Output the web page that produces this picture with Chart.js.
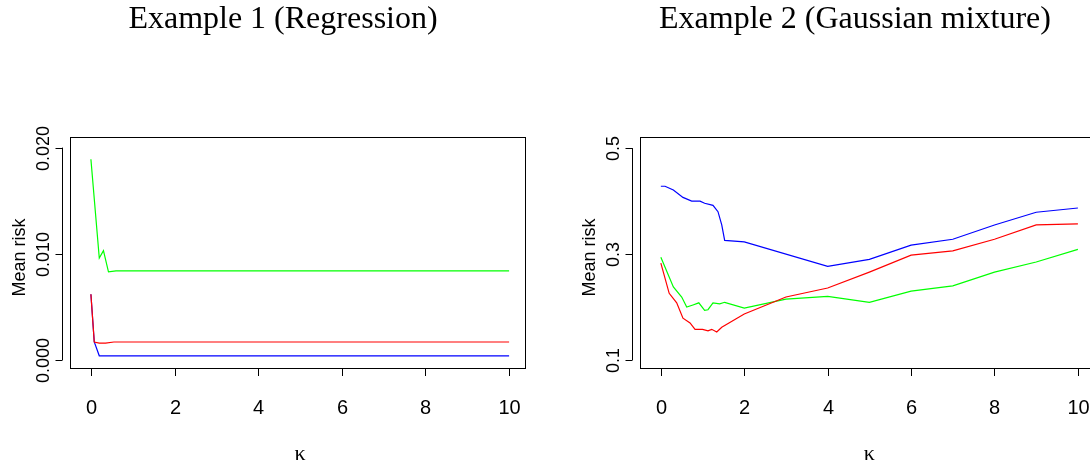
<!DOCTYPE html>
<html>
<head>
<meta charset="utf-8">
<script src="https://cdn.jsdelivr.net/npm/chart.js@4"></script>
<style>
  body { margin: 0; background: #fff; }
  canvas { position: absolute; top: 0; }
</style>
</head>
<body>
<canvas id="c1" width="545" height="466" style="left:0"></canvas>
<canvas id="c2" width="545" height="466" style="left:545px"></canvas>
<script>
// Example 1 (Regression)
const reg_green = [[0,0.0189],[0.2,0.0096],[0.3,0.0103],[0.42,0.0083],[0.6,0.0084],[10,0.0084]];
const reg_red = [[0,0.0062],[0.08,0.0017],[0.2,0.0016],[0.35,0.0016],[0.55,0.0017],[10,0.0017]];
const reg_blue = [[0,0.0062],[0.08,0.0017],[0.2,0.0004],[10,0.0004]];
const reg_xticks = [0,2,4,6,8,10];
const reg_yticks = [0, 0.01, 0.02];
const reg_ylabels = ["0.000","0.010","0.020"];

// Example 2 (Gaussian mixture)
const gm_blue = [[0,0.428],[0.1,0.428],[0.3,0.421],[0.53,0.407],[0.74,0.4],[0.94,0.4],[1.05,0.396],[1.25,0.392],[1.37,0.38],[1.46,0.355],[1.53,0.326],[2,0.323],[4,0.277],[5,0.29],[6,0.317],[7,0.328],[8,0.355],[9,0.379],[10,0.387]];
const gm_red = [[0,0.283],[0.2,0.226],[0.38,0.208],[0.53,0.179],[0.7,0.17],[0.82,0.158],[1,0.158],[1.13,0.155],[1.22,0.158],[1.34,0.153],[1.46,0.162],[2,0.187],[3,0.219],[4,0.236],[5,0.266],[6,0.298],[7,0.306],[8,0.328],[9,0.355],[10,0.357]];
const gm_green = [[0,0.294],[0.3,0.238],[0.5,0.219],[0.62,0.2],[0.77,0.204],[0.91,0.208],[1.05,0.194],[1.13,0.195],[1.25,0.208],[1.41,0.206],[1.53,0.209],[2,0.198],[3,0.215],[4,0.22],[5,0.209],[6,0.23],[7,0.24],[8,0.266],[9,0.285],[10,0.309]];
const gm_xticks = [0,2,4,6,8,10];
const gm_yticks = [0.1, 0.3, 0.5];
const gm_ylabels = ["0.1","0.3","0.5"];

function pts(a) { return a.map(p => ({x: p[0], y: p[1]})) }

function rPlot(title, titleX, xticks, yticks, ylabels) {
  return {
    id: 'rplot',
    afterDraw(chart) {
      const ctx = chart.ctx, a = chart.chartArea;
      const xs = chart.scales.x, ys = chart.scales.y;
      ctx.save();
      ctx.strokeStyle = '#000'; ctx.lineWidth = 1;
      ctx.strokeRect(a.left + 0.5, a.top + 0.5, a.right - a.left, a.bottom - a.top);
      ctx.fillStyle = '#000';
      // x axis ticks
      ctx.font = '20px "Liberation Sans Narrow", "Liberation Sans", sans-serif';
      ctx.textAlign = 'center'; ctx.textBaseline = 'middle';
      xticks.forEach(v => {
        const px = Math.round(xs.getPixelForValue(v)) + 0.5;
        ctx.beginPath(); ctx.moveTo(px, a.bottom); ctx.lineTo(px, a.bottom + 8); ctx.stroke();
        ctx.fillText(String(v), px, a.bottom + 40);
      });
      // y axis line and ticks
      const ax = a.left - 7.5;
      ctx.beginPath();
      ctx.moveTo(ax, ys.getPixelForValue(yticks[0]));
      ctx.lineTo(ax, ys.getPixelForValue(yticks[yticks.length - 1]));
      ctx.stroke();
      ctx.font = '18px "Liberation Sans", sans-serif';
      yticks.forEach((v, i) => {
        const py = Math.round(ys.getPixelForValue(v)) + 0.5;
        ctx.beginPath(); ctx.moveTo(ax, py); ctx.lineTo(ax - 7, py); ctx.stroke();
        ctx.save(); ctx.translate(a.left - 26, py); ctx.rotate(-Math.PI / 2);
        ctx.fillText(ylabels[i], 0, 0); ctx.restore();
      });
      ctx.save(); ctx.translate(a.left - 50, (a.top + a.bottom) / 2 + 5); ctx.rotate(-Math.PI / 2);
      ctx.fillText('Mean risk', 0, 0); ctx.restore();
      ctx.font = '22px "Liberation Serif", serif';
      ctx.fillText('κ', (xs.getPixelForValue(0) + xs.getPixelForValue(10)) / 2, a.bottom + 86);
      ctx.font = '32px "Liberation Serif", "DejaVu Serif", serif';
      ctx.fillText(title, titleX, 20);
      ctx.restore();
    }
  };
}

function makeChart(id, series, xr, yr, pad, plugin) {
  new Chart(document.getElementById(id), {
    type: 'line',
    data: {
      datasets: series.map(s => ({
        data: pts(s[0]), borderColor: s[1], borderWidth: 1.2,
        pointRadius: 0, tension: 0, fill: false
      }))
    },
    options: {
      responsive: false, animation: false,
      layout: { padding: pad },
      plugins: { legend: { display: false }, tooltip: { enabled: false } },
      scales: {
        x: { type: 'linear', min: xr[0], max: xr[1], display: false },
        y: { type: 'linear', min: yr[0], max: yr[1], display: false }
      }
    },
    plugins: [plugin]
  });
}

makeChart('c1', [[reg_green, '#00ff00'], [reg_red, '#ff0000'], [reg_blue, '#0000ff']],
  [-0.5, 10.38], [-0.00075, 0.021], { left: 70, top: 137, right: 20, bottom: 98 },
  rPlot('Example 1 (Regression)', 283, reg_xticks, reg_yticks, reg_ylabels));

makeChart('c2', [[gm_blue, '#0000ff'], [gm_red, '#ff0000'], [gm_green, '#00ff00']],
  [-0.5, 10.29], [0.085, 0.521], { left: 95, top: 137, right: 0, bottom: 98 },
  rPlot('Example 2 (Gaussian mixture)', 310, gm_xticks, gm_yticks, gm_ylabels));
</script>
</body>
</html>
